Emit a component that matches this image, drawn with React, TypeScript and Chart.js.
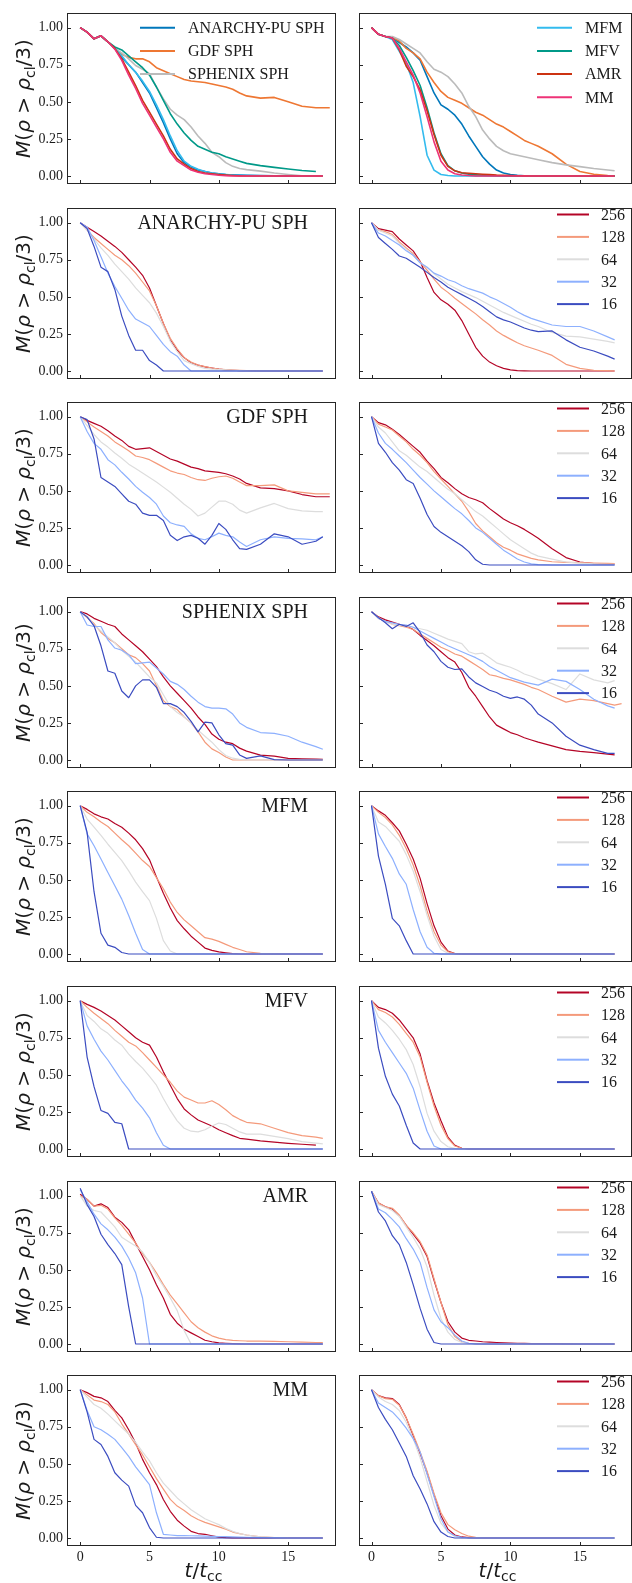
import React, { useEffect, useRef } from "react";
import { Chart, registerables } from "chart.js";

Chart.register(...registerables);

// Sample times (units of t_cc) shared by every curve
const T = [0, 0.5, 1, 1.5, 2, 2.5, 3, 3.5, 4, 4.5, 5, 5.5, 6, 6.5, 7, 7.5, 8, 8.5, 9, 9.5, 10, 10.5, 11, 11.5, 12, 13, 14, 15, 16, 17, 17.5, 18];

const X_TICKS = [0, 5, 10, 15];
const Y_TICKS = [0, 0.25, 0.5, 0.75, 1.0];

const METHODS = ["ANARCHY-PU SPH", "GDF SPH", "SPHENIX SPH", "MFM", "MFV", "AMR", "MM"];
const METHOD_COLORS = ["#0077BB", "#EE7733", "#BBBBBB", "#33BBEE", "#009988", "#CC3311", "#EE3377"];
const RESOLUTIONS = ["256", "128", "64", "32", "16"];
const RES_COLORS = ["#b40426", "#f49a7b", "#dddddd", "#8db0fe", "#3b4cc0"];
const ROW_TITLES = [null, "ANARCHY-PU SPH", "GDF SPH", "SPHENIX SPH", "MFM", "MFV", "AMR", "MM"];

// ---- comparison of all methods, set A (left) ----
const CMP_A_ANARCHY = [1.0, 0.97, 0.925, 0.945, 0.905, 0.86, 0.80, 0.75, 0.70, 0.63, 0.56, 0.46, 0.36, 0.25, 0.15, 0.09, 0.06, 0.04, 0.03, 0.02, 0.015, 0.01, 0.008, 0.006, 0.005, 0.003, 0.001, 0, 0, 0, 0];
const CMP_A_GDF = [1.0, 0.97, 0.925, 0.945, 0.905, 0.86, 0.82, 0.80, 0.79, 0.79, 0.77, 0.73, 0.71, 0.69, 0.67, 0.65, 0.64, 0.635, 0.63, 0.62, 0.61, 0.60, 0.585, 0.56, 0.54, 0.525, 0.53, 0.50, 0.47, 0.46, 0.46, 0.46];
const CMP_A_SPHENIX = [1.0, 0.97, 0.925, 0.945, 0.905, 0.86, 0.83, 0.79, 0.745, 0.72, 0.69, 0.60, 0.52, 0.45, 0.41, 0.38, 0.33, 0.27, 0.22, 0.16, 0.13, 0.09, 0.065, 0.05, 0.043, 0.033, 0.02, 0.01, 0.002, 0, 0];
const CMP_A_MFM = [1.0, 0.97, 0.925, 0.945, 0.905, 0.86, 0.81, 0.75, 0.70, 0.64, 0.57, 0.48, 0.38, 0.27, 0.17, 0.10, 0.065, 0.045, 0.03, 0.02, 0.014, 0.01, 0.007, 0.005, 0.003, 0.001, 0, 0, 0, 0, 0];
const CMP_A_MFV = [1.0, 0.97, 0.925, 0.945, 0.905, 0.87, 0.85, 0.81, 0.77, 0.73, 0.68, 0.60, 0.51, 0.42, 0.35, 0.29, 0.24, 0.20, 0.18, 0.16, 0.15, 0.13, 0.115, 0.10, 0.085, 0.07, 0.058, 0.047, 0.037, 0.03];
const CMP_A_AMR = [1.0, 0.97, 0.925, 0.945, 0.905, 0.86, 0.79, 0.70, 0.61, 0.51, 0.43, 0.35, 0.27, 0.18, 0.115, 0.08, 0.05, 0.03, 0.02, 0.015, 0.01, 0.006, 0.003, 0.001, 0, 0, 0, 0, 0, 0, 0];
const CMP_A_MM = [1.0, 0.97, 0.925, 0.945, 0.905, 0.855, 0.78, 0.68, 0.59, 0.49, 0.41, 0.33, 0.25, 0.16, 0.10, 0.07, 0.04, 0.025, 0.015, 0.01, 0.005, 0.002, 0, 0, 0, 0, 0, 0, 0, 0, 0];

// ---- comparison of all methods, set B (right) ----
const CMP_B_ANARCHY = [1.0, 0.955, 0.94, 0.935, 0.90, 0.87, 0.83, 0.78, 0.67, 0.56, 0.48, 0.45, 0.41, 0.35, 0.27, 0.20, 0.13, 0.08, 0.04, 0.02, 0.01, 0.005, 0.002, 0, 0, 0, 0, 0, 0, 0, 0];
const CMP_B_GDF = [1.0, 0.955, 0.94, 0.935, 0.91, 0.86, 0.83, 0.79, 0.70, 0.63, 0.57, 0.53, 0.51, 0.49, 0.46, 0.43, 0.41, 0.38, 0.35, 0.33, 0.30, 0.27, 0.24, 0.22, 0.20, 0.15, 0.08, 0.03, 0.012, 0.003, 0];
const CMP_B_SPHENIX = [1.0, 0.955, 0.94, 0.94, 0.92, 0.89, 0.86, 0.83, 0.77, 0.72, 0.70, 0.67, 0.62, 0.56, 0.47, 0.40, 0.31, 0.25, 0.20, 0.17, 0.15, 0.14, 0.13, 0.12, 0.11, 0.09, 0.075, 0.063, 0.05, 0.04, 0.035];
const CMP_B_MFM = [1.0, 0.955, 0.94, 0.92, 0.84, 0.76, 0.63, 0.40, 0.14, 0.04, 0.01, 0.003, 0, 0, 0, 0, 0, 0, 0, 0, 0, 0, 0, 0, 0, 0, 0, 0, 0, 0, 0];
const CMP_B_MFV = [1.0, 0.955, 0.94, 0.93, 0.88, 0.80, 0.71, 0.61, 0.46, 0.29, 0.15, 0.07, 0.035, 0.02, 0.012, 0.008, 0.005, 0.004, 0.002, 0.001, 0, 0, 0, 0, 0, 0, 0, 0, 0, 0, 0];
const CMP_B_AMR = [1.0, 0.955, 0.94, 0.93, 0.85, 0.74, 0.67, 0.58, 0.44, 0.28, 0.14, 0.065, 0.035, 0.022, 0.018, 0.015, 0.012, 0.009, 0.006, 0.005, 0.003, 0.002, 0.001, 0, 0, 0, 0, 0, 0, 0, 0];
const CMP_B_MM = [1.0, 0.955, 0.94, 0.93, 0.86, 0.77, 0.68, 0.56, 0.40, 0.23, 0.10, 0.04, 0.015, 0.007, 0.003, 0, 0, 0, 0, 0, 0, 0, 0, 0, 0, 0, 0, 0, 0, 0, 0];

// ---- ANARCHY-PU SPH resolution study ----
const ANARCHY_A_256 = [1.0, 0.97, 0.94, 0.91, 0.875, 0.84, 0.80, 0.75, 0.70, 0.645, 0.56, 0.44, 0.32, 0.21, 0.14, 0.09, 0.055, 0.04, 0.028, 0.02, 0.012, 0.008, 0.005, 0.003, 0.002, 0, 0, 0, 0, 0, 0];
const ANARCHY_A_128 = [1.0, 0.95, 0.90, 0.86, 0.82, 0.78, 0.75, 0.71, 0.66, 0.60, 0.54, 0.44, 0.32, 0.22, 0.15, 0.09, 0.06, 0.04, 0.03, 0.02, 0.012, 0.009, 0.006, 0.004, 0.002, 0, 0, 0, 0, 0, 0];
const ANARCHY_A_64 = [1.0, 0.95, 0.89, 0.83, 0.78, 0.72, 0.67, 0.62, 0.56, 0.51, 0.46, 0.39, 0.30, 0.20, 0.13, 0.07, 0.05, 0.03, 0.018, 0.013, 0.01, 0.007, 0.005, 0.003, 0, 0, 0, 0, 0, 0, 0];
const ANARCHY_A_32 = [1.0, 0.97, 0.88, 0.77, 0.66, 0.57, 0.49, 0.41, 0.35, 0.325, 0.30, 0.24, 0.18, 0.13, 0.10, 0.04, 0, 0, 0, 0, 0, 0, 0, 0, 0, 0, 0, 0, 0, 0, 0];
const ANARCHY_A_16 = [1.0, 0.96, 0.84, 0.70, 0.67, 0.55, 0.37, 0.24, 0.14, 0.14, 0.07, 0.04, 0, 0, 0, 0, 0, 0, 0, 0, 0, 0, 0, 0, 0, 0, 0, 0, 0, 0, 0];
const ANARCHY_B_256 = [1.0, 0.96, 0.95, 0.94, 0.89, 0.85, 0.81, 0.74, 0.63, 0.53, 0.48, 0.45, 0.41, 0.34, 0.25, 0.16, 0.10, 0.06, 0.035, 0.018, 0.008, 0.003, 0.001, 0, 0, 0, 0, 0, 0, 0, 0];
const ANARCHY_B_128 = [1.0, 0.95, 0.94, 0.92, 0.87, 0.83, 0.79, 0.735, 0.68, 0.62, 0.565, 0.53, 0.49, 0.455, 0.42, 0.385, 0.345, 0.31, 0.27, 0.24, 0.215, 0.19, 0.17, 0.155, 0.14, 0.105, 0.045, 0.018, 0.005, 0.002, 0];
const ANARCHY_B_64 = [1.0, 0.95, 0.93, 0.91, 0.86, 0.82, 0.78, 0.73, 0.70, 0.655, 0.62, 0.585, 0.56, 0.535, 0.515, 0.495, 0.47, 0.445, 0.42, 0.395, 0.375, 0.355, 0.335, 0.315, 0.30, 0.26, 0.235, 0.23, 0.215, 0.20, 0.19];
const ANARCHY_B_32 = [1.0, 0.93, 0.91, 0.88, 0.85, 0.81, 0.78, 0.73, 0.70, 0.66, 0.64, 0.615, 0.60, 0.575, 0.555, 0.54, 0.525, 0.50, 0.48, 0.455, 0.43, 0.40, 0.375, 0.355, 0.34, 0.31, 0.30, 0.30, 0.27, 0.23, 0.21];
const ANARCHY_B_16 = [1.0, 0.90, 0.86, 0.82, 0.775, 0.76, 0.73, 0.70, 0.665, 0.63, 0.60, 0.565, 0.54, 0.515, 0.49, 0.465, 0.435, 0.40, 0.365, 0.345, 0.33, 0.31, 0.29, 0.275, 0.265, 0.27, 0.21, 0.16, 0.135, 0.10, 0.08];

// ---- GDF SPH resolution study ----
const GDF_A_256 = [1.0, 0.975, 0.955, 0.935, 0.905, 0.87, 0.84, 0.80, 0.78, 0.785, 0.79, 0.765, 0.74, 0.715, 0.70, 0.68, 0.66, 0.65, 0.635, 0.63, 0.625, 0.615, 0.60, 0.58, 0.55, 0.52, 0.515, 0.50, 0.475, 0.46, 0.46, 0.46];
const GDF_A_128 = [1.0, 0.965, 0.93, 0.90, 0.87, 0.83, 0.80, 0.77, 0.735, 0.725, 0.71, 0.685, 0.66, 0.635, 0.62, 0.61, 0.59, 0.575, 0.57, 0.585, 0.595, 0.60, 0.585, 0.56, 0.535, 0.535, 0.54, 0.50, 0.49, 0.48, 0.48, 0.48];
const GDF_A_64 = [1.0, 0.94, 0.88, 0.83, 0.795, 0.755, 0.72, 0.68, 0.65, 0.62, 0.59, 0.56, 0.525, 0.49, 0.45, 0.41, 0.375, 0.33, 0.35, 0.39, 0.43, 0.43, 0.41, 0.37, 0.35, 0.385, 0.415, 0.38, 0.365, 0.36, 0.36];
const GDF_A_32 = [1.0, 0.90, 0.82, 0.78, 0.71, 0.675, 0.625, 0.58, 0.53, 0.49, 0.455, 0.41, 0.33, 0.285, 0.27, 0.26, 0.21, 0.18, 0.17, 0.19, 0.215, 0.20, 0.19, 0.155, 0.125, 0.17, 0.19, 0.18, 0.176, 0.17, 0.19];
const GDF_A_16 = [1.0, 0.98, 0.85, 0.59, 0.56, 0.53, 0.48, 0.43, 0.41, 0.35, 0.335, 0.335, 0.30, 0.20, 0.165, 0.19, 0.20, 0.18, 0.14, 0.20, 0.28, 0.24, 0.17, 0.11, 0.105, 0.14, 0.21, 0.19, 0.14, 0.16, 0.19];
const GDF_B_256 = [1.0, 0.96, 0.945, 0.915, 0.88, 0.84, 0.80, 0.76, 0.70, 0.65, 0.59, 0.555, 0.515, 0.48, 0.455, 0.44, 0.42, 0.38, 0.345, 0.31, 0.285, 0.265, 0.24, 0.21, 0.18, 0.11, 0.05, 0.02, 0.009, 0.006, 0.005];
const GDF_B_128 = [1.0, 0.95, 0.93, 0.91, 0.87, 0.83, 0.78, 0.74, 0.69, 0.63, 0.58, 0.53, 0.48, 0.43, 0.36, 0.28, 0.23, 0.19, 0.15, 0.12, 0.10, 0.075, 0.06, 0.045, 0.035, 0.022, 0.018, 0.016, 0.013, 0.011, 0.01];
const GDF_B_64 = [1.0, 0.93, 0.89, 0.83, 0.77, 0.74, 0.70, 0.66, 0.63, 0.59, 0.55, 0.51, 0.48, 0.44, 0.40, 0.36, 0.33, 0.29, 0.25, 0.21, 0.17, 0.14, 0.11, 0.08, 0.06, 0.04, 0.02, 0.012, 0.008, 0.005, 0.005];
const GDF_B_32 = [1.0, 0.89, 0.82, 0.78, 0.735, 0.69, 0.64, 0.59, 0.545, 0.50, 0.46, 0.42, 0.38, 0.345, 0.30, 0.25, 0.22, 0.18, 0.14, 0.10, 0.07, 0.04, 0.02, 0.008, 0.003, 0, 0, 0, 0, 0, 0];
const GDF_B_16 = [1.0, 0.82, 0.76, 0.69, 0.64, 0.575, 0.55, 0.45, 0.34, 0.26, 0.22, 0.19, 0.16, 0.13, 0.09, 0.035, 0.005, 0, 0, 0, 0, 0, 0, 0, 0, 0, 0, 0, 0, 0, 0];

// ---- SPHENIX SPH resolution study ----
const SPHENIX_A_256 = [1.0, 0.985, 0.955, 0.935, 0.915, 0.90, 0.85, 0.81, 0.77, 0.73, 0.68, 0.63, 0.56, 0.50, 0.45, 0.40, 0.35, 0.29, 0.24, 0.175, 0.14, 0.12, 0.11, 0.08, 0.06, 0.033, 0.026, 0.011, 0.008, 0.006, 0.005];
const SPHENIX_A_128 = [1.0, 0.96, 0.92, 0.86, 0.82, 0.79, 0.75, 0.71, 0.69, 0.65, 0.60, 0.50, 0.40, 0.36, 0.34, 0.29, 0.25, 0.19, 0.12, 0.075, 0.05, 0.02, 0, 0, 0, 0, 0, 0, 0, 0, 0];
const SPHENIX_A_64 = [1.0, 0.97, 0.91, 0.87, 0.83, 0.79, 0.74, 0.70, 0.66, 0.61, 0.56, 0.52, 0.44, 0.36, 0.32, 0.29, 0.25, 0.20, 0.16, 0.12, 0.07, 0.03, 0.012, 0.004, 0, 0, 0, 0, 0, 0, 0];
const SPHENIX_A_32 = [1.0, 0.91, 0.90, 0.90, 0.81, 0.755, 0.74, 0.71, 0.65, 0.655, 0.66, 0.62, 0.58, 0.53, 0.51, 0.475, 0.43, 0.39, 0.36, 0.35, 0.35, 0.345, 0.31, 0.25, 0.22, 0.185, 0.18, 0.16, 0.12, 0.09, 0.072];
const SPHENIX_A_16 = [1.0, 0.965, 0.905, 0.77, 0.60, 0.585, 0.465, 0.42, 0.50, 0.54, 0.54, 0.49, 0.38, 0.38, 0.36, 0.32, 0.26, 0.19, 0.255, 0.25, 0.17, 0.11, 0.10, 0.034, 0.011, 0.028, 0.003, 0, 0, 0, 0];
const SPHENIX_B_256 = [1.0, 0.965, 0.945, 0.93, 0.915, 0.905, 0.88, 0.84, 0.805, 0.77, 0.73, 0.69, 0.66, 0.59, 0.49, 0.43, 0.36, 0.29, 0.235, 0.21, 0.185, 0.17, 0.15, 0.135, 0.12, 0.095, 0.07, 0.058, 0.05, 0.04, 0.034];
const SPHENIX_B_128 = [1.0, 0.955, 0.935, 0.915, 0.905, 0.895, 0.88, 0.85, 0.82, 0.79, 0.76, 0.74, 0.715, 0.70, 0.67, 0.64, 0.61, 0.575, 0.565, 0.55, 0.54, 0.525, 0.51, 0.49, 0.475, 0.43, 0.39, 0.41, 0.40, 0.38, 0.37, 0.38];
const SPHENIX_B_64 = [1.0, 0.96, 0.93, 0.915, 0.91, 0.90, 0.895, 0.885, 0.875, 0.855, 0.835, 0.815, 0.80, 0.785, 0.73, 0.715, 0.72, 0.69, 0.655, 0.64, 0.625, 0.605, 0.58, 0.565, 0.545, 0.515, 0.475, 0.58, 0.54, 0.52, 0.535];
const SPHENIX_B_32 = [1.0, 0.955, 0.935, 0.925, 0.915, 0.91, 0.895, 0.87, 0.845, 0.82, 0.795, 0.77, 0.75, 0.73, 0.71, 0.69, 0.665, 0.63, 0.605, 0.58, 0.555, 0.54, 0.525, 0.515, 0.505, 0.545, 0.53, 0.475, 0.41, 0.365, 0.35];
const SPHENIX_B_16 = [1.0, 0.96, 0.925, 0.885, 0.915, 0.90, 0.925, 0.86, 0.775, 0.73, 0.665, 0.625, 0.61, 0.615, 0.56, 0.52, 0.495, 0.47, 0.455, 0.43, 0.415, 0.425, 0.41, 0.37, 0.31, 0.25, 0.16, 0.10, 0.07, 0.045, 0.045];

// ---- MFM resolution study ----
const MFM_A_256 = [1.0, 0.975, 0.945, 0.925, 0.91, 0.88, 0.855, 0.815, 0.77, 0.71, 0.635, 0.52, 0.41, 0.31, 0.225, 0.17, 0.12, 0.08, 0.04, 0.024, 0.014, 0.008, 0.003, 0, 0, 0, 0, 0, 0, 0, 0];
const MFM_A_128 = [1.0, 0.955, 0.925, 0.89, 0.86, 0.815, 0.77, 0.73, 0.68, 0.63, 0.59, 0.515, 0.44, 0.35, 0.28, 0.23, 0.19, 0.15, 0.11, 0.10, 0.085, 0.065, 0.045, 0.03, 0.015, 0.004, 0.001, 0, 0, 0, 0];
const MFM_A_64 = [1.0, 0.91, 0.855, 0.80, 0.74, 0.685, 0.63, 0.56, 0.485, 0.42, 0.36, 0.24, 0.09, 0.02, 0, 0, 0, 0, 0, 0, 0, 0, 0, 0, 0, 0, 0, 0, 0, 0, 0];
const MFM_A_32 = [1.0, 0.81, 0.73, 0.64, 0.55, 0.46, 0.37, 0.26, 0.14, 0.03, 0, 0, 0, 0, 0, 0, 0, 0, 0, 0, 0, 0, 0, 0, 0, 0, 0, 0, 0, 0, 0];
const MFM_A_16 = [1.0, 0.82, 0.42, 0.14, 0.06, 0.045, 0.01, 0, 0, 0, 0, 0, 0, 0, 0, 0, 0, 0, 0, 0, 0, 0, 0, 0, 0, 0, 0, 0, 0, 0, 0];
const MFM_B_256 = [1.0, 0.965, 0.935, 0.885, 0.83, 0.74, 0.64, 0.51, 0.34, 0.19, 0.08, 0.02, 0.003, 0, 0, 0, 0, 0, 0, 0, 0, 0, 0, 0, 0, 0, 0, 0, 0, 0, 0];
const MFM_B_128 = [1.0, 0.955, 0.92, 0.87, 0.80, 0.71, 0.60, 0.46, 0.29, 0.15, 0.06, 0.015, 0.003, 0, 0, 0, 0, 0, 0, 0, 0, 0, 0, 0, 0, 0, 0, 0, 0, 0, 0];
const MFM_B_64 = [1.0, 0.89, 0.86, 0.81, 0.76, 0.67, 0.56, 0.42, 0.26, 0.12, 0.03, 0.005, 0, 0, 0, 0, 0, 0, 0, 0, 0, 0, 0, 0, 0, 0, 0, 0, 0, 0, 0];
const MFM_B_32 = [1.0, 0.81, 0.725, 0.645, 0.54, 0.47, 0.30, 0.15, 0.045, 0.005, 0, 0, 0, 0, 0, 0, 0, 0, 0, 0, 0, 0, 0, 0, 0, 0, 0, 0, 0, 0, 0];
const MFM_B_16 = [1.0, 0.66, 0.47, 0.24, 0.19, 0.09, 0, 0, 0, 0, 0, 0, 0, 0, 0, 0, 0, 0, 0, 0, 0, 0, 0, 0, 0, 0, 0, 0, 0, 0, 0];

// ---- MFV resolution study ----
const MFV_A_256 = [1.0, 0.975, 0.955, 0.93, 0.90, 0.87, 0.83, 0.79, 0.75, 0.72, 0.70, 0.62, 0.52, 0.43, 0.34, 0.27, 0.23, 0.195, 0.175, 0.155, 0.13, 0.11, 0.09, 0.072, 0.067, 0.055, 0.046, 0.038, 0.032, 0.026];
const MFV_A_128 = [1.0, 0.955, 0.915, 0.88, 0.845, 0.80, 0.76, 0.72, 0.695, 0.65, 0.60, 0.55, 0.50, 0.45, 0.39, 0.35, 0.33, 0.31, 0.31, 0.325, 0.30, 0.265, 0.225, 0.20, 0.18, 0.17, 0.14, 0.11, 0.09, 0.08, 0.072];
const MFV_A_64 = [1.0, 0.90, 0.86, 0.81, 0.78, 0.735, 0.70, 0.64, 0.59, 0.545, 0.49, 0.43, 0.34, 0.26, 0.19, 0.14, 0.12, 0.115, 0.13, 0.155, 0.175, 0.165, 0.14, 0.115, 0.10, 0.10, 0.085, 0.07, 0.05, 0.04, 0.034];
const MFV_A_32 = [1.0, 0.83, 0.74, 0.66, 0.60, 0.53, 0.46, 0.40, 0.33, 0.275, 0.21, 0.11, 0.025, 0, 0, 0, 0, 0, 0, 0, 0, 0, 0, 0, 0, 0, 0, 0, 0, 0, 0];
const MFV_A_16 = [1.0, 0.62, 0.42, 0.26, 0.24, 0.18, 0.17, 0, 0, 0, 0, 0, 0, 0, 0, 0, 0, 0, 0, 0, 0, 0, 0, 0, 0, 0, 0, 0, 0, 0, 0];
const MFV_B_256 = [1.0, 0.955, 0.94, 0.915, 0.87, 0.81, 0.75, 0.64, 0.46, 0.31, 0.19, 0.08, 0.025, 0.005, 0, 0, 0, 0, 0, 0, 0, 0, 0, 0, 0, 0, 0, 0, 0, 0, 0];
const MFV_B_128 = [1.0, 0.94, 0.92, 0.89, 0.84, 0.78, 0.72, 0.62, 0.45, 0.29, 0.16, 0.07, 0.02, 0.005, 0, 0, 0, 0, 0, 0, 0, 0, 0, 0, 0, 0, 0, 0, 0, 0, 0];
const MFV_B_64 = [1.0, 0.89, 0.85, 0.80, 0.74, 0.67, 0.57, 0.42, 0.24, 0.12, 0.05, 0.015, 0.004, 0, 0, 0, 0, 0, 0, 0, 0, 0, 0, 0, 0, 0, 0, 0, 0, 0, 0];
const MFV_B_32 = [1.0, 0.80, 0.72, 0.65, 0.58, 0.51, 0.41, 0.26, 0.12, 0.02, 0, 0, 0, 0, 0, 0, 0, 0, 0, 0, 0, 0, 0, 0, 0, 0, 0, 0, 0, 0, 0];
const MFV_B_16 = [1.0, 0.68, 0.49, 0.37, 0.29, 0.16, 0.04, 0, 0, 0, 0, 0, 0, 0, 0, 0, 0, 0, 0, 0, 0, 0, 0, 0, 0, 0, 0, 0, 0, 0, 0];

// ---- AMR resolution study ----
const AMR_A_256 = [1.01, 0.975, 0.93, 0.945, 0.92, 0.855, 0.82, 0.77, 0.68, 0.59, 0.50, 0.40, 0.31, 0.20, 0.14, 0.10, 0.075, 0.05, 0.025, 0.015, 0.008, 0.005, 0.003, 0.001, 0, 0, 0, 0, 0, 0, 0];
const AMR_A_128 = [1.0, 0.975, 0.93, 0.935, 0.91, 0.85, 0.80, 0.74, 0.68, 0.61, 0.55, 0.48, 0.40, 0.33, 0.27, 0.21, 0.15, 0.11, 0.08, 0.055, 0.04, 0.03, 0.025, 0.022, 0.02, 0.02, 0.018, 0.015, 0.012, 0.01, 0.01];
const AMR_A_64 = [1.0, 0.93, 0.90, 0.89, 0.84, 0.79, 0.72, 0.69, 0.66, 0.62, 0.55, 0.46, 0.39, 0.31, 0.225, 0.09, 0, 0, 0, 0, 0, 0, 0, 0, 0, 0, 0, 0, 0, 0, 0];
const AMR_A_32 = [1.04, 0.96, 0.875, 0.81, 0.77, 0.72, 0.66, 0.58, 0.48, 0.31, 0, 0, 0, 0, 0, 0, 0, 0, 0, 0, 0, 0, 0, 0, 0, 0, 0, 0, 0, 0, 0];
const AMR_A_16 = [1.05, 0.94, 0.86, 0.74, 0.67, 0.61, 0.535, 0.25, 0, 0, 0, 0, 0, 0, 0, 0, 0, 0, 0, 0, 0, 0, 0, 0, 0, 0, 0, 0, 0, 0, 0];
const AMR_B_256 = [1.03, 0.95, 0.925, 0.91, 0.865, 0.80, 0.74, 0.68, 0.59, 0.43, 0.28, 0.15, 0.08, 0.04, 0.025, 0.02, 0.015, 0.012, 0.01, 0.008, 0.006, 0.005, 0.004, 0.003, 0.003, 0.002, 0.001, 0, 0, 0, 0];
const AMR_B_128 = [1.03, 0.95, 0.925, 0.915, 0.87, 0.80, 0.75, 0.69, 0.60, 0.44, 0.28, 0.13, 0.05, 0.015, 0.005, 0.003, 0, 0, 0, 0, 0, 0, 0, 0, 0, 0, 0, 0, 0, 0, 0];
const AMR_B_64 = [1.03, 0.94, 0.92, 0.90, 0.86, 0.79, 0.72, 0.64, 0.52, 0.33, 0.17, 0.08, 0.03, 0.01, 0.003, 0, 0, 0, 0, 0, 0, 0, 0, 0, 0, 0, 0, 0, 0, 0, 0];
const AMR_B_32 = [1.03, 0.91, 0.885, 0.84, 0.79, 0.71, 0.64, 0.55, 0.38, 0.23, 0.15, 0.11, 0.06, 0.02, 0.005, 0, 0, 0, 0, 0, 0, 0, 0, 0, 0, 0, 0, 0, 0, 0, 0];
const AMR_B_16 = [1.03, 0.89, 0.83, 0.73, 0.67, 0.55, 0.40, 0.24, 0.10, 0.01, 0, 0, 0, 0, 0, 0, 0, 0, 0, 0, 0, 0, 0, 0, 0, 0, 0, 0, 0, 0, 0];

// ---- MM resolution study ----
const MM_A_256 = [1.0, 0.98, 0.955, 0.945, 0.92, 0.86, 0.81, 0.73, 0.64, 0.53, 0.44, 0.36, 0.26, 0.18, 0.12, 0.08, 0.045, 0.03, 0.025, 0.015, 0.006, 0.002, 0, 0, 0, 0, 0, 0, 0, 0, 0];
const MM_A_128 = [1.0, 0.965, 0.93, 0.92, 0.90, 0.85, 0.77, 0.70, 0.63, 0.56, 0.48, 0.40, 0.33, 0.26, 0.215, 0.185, 0.15, 0.125, 0.105, 0.09, 0.075, 0.06, 0.04, 0.03, 0.02, 0.008, 0.003, 0, 0, 0, 0];
const MM_A_64 = [1.0, 0.95, 0.90, 0.875, 0.835, 0.79, 0.745, 0.70, 0.645, 0.58, 0.52, 0.44, 0.37, 0.32, 0.27, 0.23, 0.19, 0.16, 0.13, 0.11, 0.09, 0.065, 0.045, 0.03, 0.02, 0.008, 0.002, 0, 0, 0, 0];
const MM_A_32 = [1.0, 0.86, 0.75, 0.73, 0.70, 0.665, 0.61, 0.55, 0.48, 0.42, 0.36, 0.17, 0.025, 0.02, 0.016, 0.016, 0.015, 0.014, 0.012, 0.011, 0.01, 0.009, 0.008, 0.006, 0.005, 0.003, 0.001, 0, 0, 0, 0];
const MM_A_16 = [1.0, 0.85, 0.665, 0.63, 0.55, 0.44, 0.39, 0.35, 0.22, 0.17, 0.07, 0.005, 0, 0, 0, 0, 0, 0, 0, 0, 0, 0, 0, 0, 0, 0, 0, 0, 0, 0, 0];
const MM_B_256 = [1.0, 0.96, 0.945, 0.94, 0.90, 0.81, 0.69, 0.57, 0.44, 0.29, 0.15, 0.06, 0.02, 0.007, 0.002, 0, 0, 0, 0, 0, 0, 0, 0, 0, 0, 0, 0, 0];
const MM_B_128 = [1.0, 0.96, 0.94, 0.935, 0.895, 0.81, 0.70, 0.58, 0.45, 0.30, 0.17, 0.09, 0.055, 0.03, 0.012, 0.004, 0, 0, 0, 0, 0, 0, 0, 0, 0, 0, 0, 0, 0, 0, 0];
const MM_B_64 = [1.0, 0.95, 0.92, 0.90, 0.86, 0.78, 0.67, 0.54, 0.38, 0.22, 0.10, 0.04, 0.01, 0, 0, 0, 0, 0, 0, 0, 0, 0, 0, 0, 0, 0, 0, 0, 0, 0, 0];
const MM_B_32 = [1.0, 0.91, 0.88, 0.85, 0.80, 0.74, 0.67, 0.58, 0.43, 0.28, 0.13, 0.04, 0.015, 0.005, 0, 0, 0, 0, 0, 0, 0, 0, 0, 0, 0, 0, 0, 0, 0, 0, 0];
const MM_B_16 = [1.0, 0.88, 0.80, 0.73, 0.64, 0.55, 0.42, 0.33, 0.23, 0.11, 0.04, 0.01, 0, 0, 0, 0, 0, 0, 0, 0, 0, 0, 0, 0, 0, 0, 0, 0, 0, 0, 0];

const CMP_A = [CMP_A_ANARCHY, CMP_A_GDF, CMP_A_SPHENIX, CMP_A_MFM, CMP_A_MFV, CMP_A_AMR, CMP_A_MM];
const CMP_B = [CMP_B_ANARCHY, CMP_B_GDF, CMP_B_SPHENIX, CMP_B_MFM, CMP_B_MFV, CMP_B_AMR, CMP_B_MM];
const RES_A = [
  [ANARCHY_A_256, ANARCHY_A_128, ANARCHY_A_64, ANARCHY_A_32, ANARCHY_A_16],
  [GDF_A_256, GDF_A_128, GDF_A_64, GDF_A_32, GDF_A_16],
  [SPHENIX_A_256, SPHENIX_A_128, SPHENIX_A_64, SPHENIX_A_32, SPHENIX_A_16],
  [MFM_A_256, MFM_A_128, MFM_A_64, MFM_A_32, MFM_A_16],
  [MFV_A_256, MFV_A_128, MFV_A_64, MFV_A_32, MFV_A_16],
  [AMR_A_256, AMR_A_128, AMR_A_64, AMR_A_32, AMR_A_16],
  [MM_A_256, MM_A_128, MM_A_64, MM_A_32, MM_A_16],
];
const RES_B = [
  [ANARCHY_B_256, ANARCHY_B_128, ANARCHY_B_64, ANARCHY_B_32, ANARCHY_B_16],
  [GDF_B_256, GDF_B_128, GDF_B_64, GDF_B_32, GDF_B_16],
  [SPHENIX_B_256, SPHENIX_B_128, SPHENIX_B_64, SPHENIX_B_32, SPHENIX_B_16],
  [MFM_B_256, MFM_B_128, MFM_B_64, MFM_B_32, MFM_B_16],
  [MFV_B_256, MFV_B_128, MFV_B_64, MFV_B_32, MFV_B_16],
  [AMR_B_256, AMR_B_128, AMR_B_64, AMR_B_32, AMR_B_16],
  [MM_B_256, MM_B_128, MM_B_64, MM_B_32, MM_B_16],
];

// ---- layout ----
const ROWS = 8;
const ROW_TOP0 = 13;
const ROW_PITCH = 194.6;
const FRAME_H = 171;
const PAD_T = 6;
const PAD_B = 6;
const X_AXIS_H = 37;
const Y_AXIS_W = 67;
const Y_MIN = -0.054;
const Y_MAX = 1.099;
const COLS = [
  { left: 0, width: 340, padL: 0, padR: 4, xMin: -0.95, xMax: 18.45 },
  { left: 349, width: 283, padL: 10, padR: 0, xMin: -0.9, xMax: 18.75 },
];
const AXIS_COLOR = "#262626";
const TEXT_COLOR = "#1a1a1a";
const SERIF = '"Liberation Serif", "Times New Roman", serif';
const SANS = '"DejaVu Sans", sans-serif';

type Run = { s: string; it?: boolean; sub?: boolean };
const Y_TITLE: Run[] = [{ s: "M", it: true }, { s: "(" }, { s: "ρ", it: true }, { s: " > " }, { s: "ρ", it: true }, { s: "cl", sub: true }, { s: "/3)" }];
const X_TITLE: Run[] = [{ s: "t", it: true }, { s: "/" }, { s: "t", it: true }, { s: "cc", sub: true }];

type Panel = {
  row: number;
  col: number;
  series: number[][];
  names: string[];
  colors: string[];
  legend: number[];
  style: "cmp" | "res";
  title: string | null;
  lw: number;
};

const PANELS: Panel[] = [];
PANELS.push({ row: 0, col: 0, series: CMP_A, names: METHODS, colors: METHOD_COLORS, legend: [0, 1, 2], style: "cmp", title: null, lw: 1.6 });
PANELS.push({ row: 0, col: 1, series: CMP_B, names: METHODS, colors: METHOD_COLORS, legend: [3, 4, 5, 6], style: "cmp", title: null, lw: 1.6 });
for (let r = 1; r < ROWS; r++) {
  PANELS.push({ row: r, col: 0, series: RES_A[r - 1], names: RESOLUTIONS, colors: RES_COLORS, legend: [], style: "res", title: ROW_TITLES[r], lw: 1.2 });
  PANELS.push({ row: r, col: 1, series: RES_B[r - 1], names: RESOLUTIONS, colors: RES_COLORS, legend: [0, 1, 2, 3, 4], style: "res", title: null, lw: 1.2 });
}

function geometry(p: Panel) {
  const col = COLS[p.col];
  const bottom = p.row === ROWS - 1;
  const top = Math.round(ROW_TOP0 + p.row * ROW_PITCH) - PAD_T;
  const h = PAD_T + FRAME_H + (bottom ? X_AXIS_H : PAD_B);
  return { left: col.left, top, w: col.width, h, bottom };
}

function drawRuns(ctx: CanvasRenderingContext2D, runs: Run[], size: number) {
  const fontOf = (r: Run) => `${r.it ? "italic " : ""}${r.sub ? size * 0.7 : size}px ${SANS}`;
  let total = 0;
  const widths = runs.map((r) => {
    ctx.font = fontOf(r);
    const w = ctx.measureText(r.s).width;
    total += w;
    return w;
  });
  let x = -total / 2;
  ctx.textAlign = "left";
  ctx.textBaseline = "alphabetic";
  runs.forEach((r, i) => {
    ctx.font = fontOf(r);
    ctx.fillText(r.s, x, size * 0.32 + (r.sub ? size * 0.22 : 0));
    x += widths[i];
  });
}

function makeDeco(p: Panel) {
  return {
    id: "panelDeco",
    afterDraw(chart: any) {
      const { ctx, chartArea: a, scales } = chart;
      const xs = scales.x;
      const ys = scales.y;
      ctx.save();
      // inward tick marks and the frame
      ctx.strokeStyle = AXIS_COLOR;
      ctx.lineWidth = 1;
      ctx.beginPath();
      X_TICKS.forEach((v) => {
        const x = Math.round(xs.getPixelForValue(v)) + 0.5;
        ctx.moveTo(x, a.bottom);
        ctx.lineTo(x, a.bottom - 4);
      });
      Y_TICKS.forEach((v) => {
        const y = Math.round(ys.getPixelForValue(v)) + 0.5;
        ctx.moveTo(a.left, y);
        ctx.lineTo(a.left + 4, y);
      });
      ctx.stroke();
      ctx.strokeRect(Math.round(a.left) + 0.5, Math.round(a.top) + 0.5, Math.round(a.right - a.left) - 1, Math.round(a.bottom - a.top) - 1);

      // legend
      if (p.legend.length) {
        let x1: number, x2: number, xt: number, y0: number, dy: number;
        if (p.style === "cmp") {
          if (p.col === 0) { x1 = a.left + 73; x2 = a.left + 108; xt = a.left + 121; }
          else { x1 = a.right - 95; x2 = a.right - 60; xt = a.right - 47; }
          y0 = a.top + 14.7; dy = 23.2;
        } else {
          x1 = a.right - 75; x2 = a.right - 43; xt = a.right - 31;
          y0 = a.top + 6.5; dy = 22.4;
        }
        ctx.font = `16px ${SERIF}`;
        ctx.textAlign = "left";
        ctx.textBaseline = "middle";
        p.legend.forEach((idx, k) => {
          const y = y0 + k * dy;
          ctx.strokeStyle = p.colors[idx];
          ctx.lineWidth = 2;
          ctx.beginPath();
          ctx.moveTo(x1, y);
          ctx.lineTo(x2, y);
          ctx.stroke();
          ctx.fillStyle = TEXT_COLOR;
          ctx.fillText(p.names[idx], xt, y + 1);
        });
      }

      // panel title
      if (p.title) {
        ctx.fillStyle = TEXT_COLOR;
        ctx.font = `20px ${SERIF}`;
        ctx.textAlign = "right";
        ctx.textBaseline = "middle";
        ctx.fillText(p.title, a.right - 28, a.top + 15.5);
      }

      // axis titles
      ctx.fillStyle = TEXT_COLOR;
      if (p.col === 0) {
        ctx.save();
        ctx.translate(24, (a.top + a.bottom) / 2);
        ctx.rotate(-Math.PI / 2);
        drawRuns(ctx, Y_TITLE, 20);
        ctx.restore();
      }
      if (p.row === ROWS - 1) {
        ctx.save();
        ctx.translate((a.left + a.right) / 2 + 2, a.bottom + 24.5);
        drawRuns(ctx, X_TITLE, 20);
        ctx.restore();
      }
      ctx.restore();
    },
  };
}

function buildConfig(p: Panel): any {
  const col = COLS[p.col];
  const g = geometry(p);
  const n = p.series.length;
  const showY = p.col === 0;
  const datasets = p.series.map((vals, k) => ({
    label: p.names[k],
    data: vals.map((v, j) => ({ x: T[j], y: v })),
    borderColor: p.colors[k],
    backgroundColor: p.colors[k],
    borderWidth: p.lw,
    pointRadius: 0,
    tension: 0,
    fill: false,
    borderJoinStyle: "round",
    order: n - k,
  }));
  const tickFont = { family: SERIF, size: 14 };
  return {
    type: "line",
    data: { datasets },
    options: {
      responsive: false,
      maintainAspectRatio: false,
      animation: false,
      events: [],
      layout: { padding: { top: PAD_T, bottom: g.bottom ? 0 : PAD_B, left: col.padL, right: col.padR } },
      plugins: { legend: { display: false }, tooltip: { enabled: false }, title: { display: false } },
      scales: {
        x: {
          type: "linear",
          min: col.xMin,
          max: col.xMax,
          display: g.bottom,
          afterBuildTicks: (s: any) => { s.ticks = X_TICKS.map((v) => ({ value: v })); },
          afterFit: (s: any) => {
            s.height = g.bottom ? X_AXIS_H : 0;
            s.paddingLeft = 0;
            s.paddingRight = 0;
          },
          grid: { display: false, drawTicks: false },
          border: { display: false },
          ticks: { font: tickFont, color: TEXT_COLOR, padding: 3, maxRotation: 0, autoSkip: false, callback: (v: any) => String(v) },
        },
        y: {
          type: "linear",
          min: Y_MIN,
          max: Y_MAX,
          display: showY,
          afterBuildTicks: (s: any) => { s.ticks = Y_TICKS.map((v) => ({ value: v })); },
          afterFit: (s: any) => {
            s.width = showY ? Y_AXIS_W : 0;
            s.paddingTop = 0;
            s.paddingBottom = 0;
          },
          grid: { display: false, drawTicks: false },
          border: { display: false },
          ticks: { font: tickFont, color: TEXT_COLOR, padding: 4, autoSkip: false, callback: (v: any) => Number(v).toFixed(2) },
        },
      },
    },
    plugins: [makeDeco(p)],
  };
}

export default function App() {
  const refs = useRef<(HTMLCanvasElement | null)[]>([]);

  useEffect(() => {
    document.body.style.margin = "0";
    const charts = PANELS.map((p, i) => new Chart(refs.current[i] as HTMLCanvasElement, buildConfig(p)));
    return () => charts.forEach((c) => c.destroy());
  }, []);

  return (
    <div style={{ position: "relative", width: 632, height: 1583, background: "#ffffff", overflow: "hidden" }}>
      {PANELS.map((p, i) => {
        const g = geometry(p);
        return (
          <canvas
            key={i}
            ref={(el) => { refs.current[i] = el; }}
            width={g.w}
            height={g.h}
            style={{ position: "absolute", left: g.left, top: g.top, width: g.w, height: g.h }}
          />
        );
      })}
    </div>
  );
}
